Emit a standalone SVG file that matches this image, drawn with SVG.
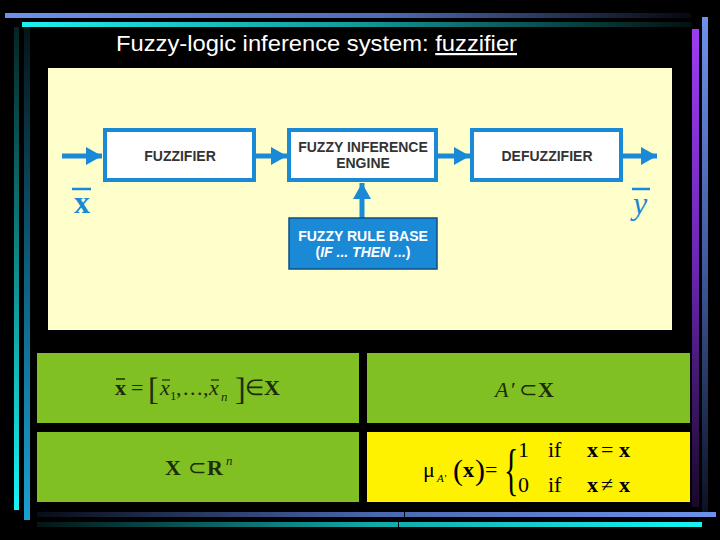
<svg xmlns="http://www.w3.org/2000/svg" width="720" height="540" viewBox="0 0 720 540">
<defs>
  <linearGradient id="gTopBlue" x1="0" y1="0" x2="1" y2="0">
    <stop offset="0" stop-color="#6d92ea"/>
    <stop offset="0.55" stop-color="#4e6cb8"/>
    <stop offset="1" stop-color="#06080e"/>
  </linearGradient>
  <linearGradient id="gTopCyan" x1="0" y1="0" x2="1" y2="0">
    <stop offset="0" stop-color="#1ef0f0"/>
    <stop offset="0.5" stop-color="#129a9a"/>
    <stop offset="1" stop-color="#041010"/>
  </linearGradient>
  <linearGradient id="gLeftCyan" x1="0" y1="0" x2="0" y2="1">
    <stop offset="0" stop-color="#062424"/>
    <stop offset="0.5" stop-color="#0f8a8c"/>
    <stop offset="1" stop-color="#19f4f4"/>
  </linearGradient>
  <linearGradient id="gLeftBlue" x1="0" y1="0" x2="0" y2="1">
    <stop offset="0" stop-color="#051418"/>
    <stop offset="0.5" stop-color="#0d5f7e"/>
    <stop offset="1" stop-color="#1aa0d2"/>
  </linearGradient>
  <linearGradient id="gRightPurple" x1="0" y1="0" x2="0" y2="1">
    <stop offset="0" stop-color="#9c3cf2"/>
    <stop offset="0.5" stop-color="#6a26b0"/>
    <stop offset="1" stop-color="#180828"/>
  </linearGradient>
  <linearGradient id="gRightBlue" x1="0" y1="0" x2="0" y2="1">
    <stop offset="0" stop-color="#6d92ea"/>
    <stop offset="0.5" stop-color="#3f5a9c"/>
    <stop offset="1" stop-color="#0c1020"/>
  </linearGradient>
  <linearGradient id="gBotBlue" x1="0" y1="0" x2="1" y2="0">
    <stop offset="0" stop-color="#080c16"/>
    <stop offset="0.5" stop-color="#4a68b0"/>
    <stop offset="1" stop-color="#6d92ea"/>
  </linearGradient>
  <linearGradient id="gBotCyan" x1="0" y1="0" x2="1" y2="0">
    <stop offset="0" stop-color="#041414"/>
    <stop offset="0.5" stop-color="#10a8a8"/>
    <stop offset="1" stop-color="#16f4f4"/>
  </linearGradient>
  <marker id="arrow" viewBox="0 0 16 18" refX="16" refY="9" markerWidth="16" markerHeight="18" markerUnits="userSpaceOnUse" orient="auto">
    <path d="M0,0 L16,9 L0,18 Z" fill="#1b8ad6"/>
  </marker>
</defs>
<style>
  .box { fill: #ffffff; stroke: #1b8ad6; stroke-width: 4; }
  .rule { fill: #1b8ad6; stroke: #0d4f86; stroke-width: 1.5; }
  .lbl { font-family: "Liberation Sans", Arial, sans-serif; font-weight: bold; font-size: 14px; fill: #333333; text-anchor: middle; }
  .wlbl { font-family: "Liberation Sans", Arial, sans-serif; font-weight: bold; font-size: 14px; fill: #ffffff; text-anchor: middle; }
  .conn { stroke: #1b8ad6; stroke-width: 5; fill: none; marker-end: url(#arrow); }
  .math { font-family: "Liberation Serif", "Times New Roman", serif; fill: #1e2c0c; }
  .mathk { font-family: "Liberation Serif", "Times New Roman", serif; fill: #000000; }
  .b { font-weight: bold; }
  .i { font-style: italic; }
</style>
<rect x="0" y="0" width="720" height="540" fill="#000000"/>

<!-- frame bars -->
<rect x="5" y="13" width="686" height="5" fill="url(#gTopBlue)"/>
<rect x="22" y="22" width="670" height="5" fill="url(#gTopCyan)"/>
<rect x="14" y="27" width="5" height="483" fill="url(#gLeftCyan)"/>
<rect x="24" y="27" width="6" height="493" fill="url(#gLeftBlue)"/>
<rect x="692" y="29" width="7" height="478" fill="url(#gRightPurple)"/>
<rect x="702" y="17" width="6" height="498" fill="url(#gRightBlue)"/>
<rect x="37" y="512" width="679" height="5" fill="url(#gBotBlue)"/>
<rect x="37" y="522" width="665" height="5" fill="url(#gBotCyan)"/>
<line x1="404.5" y1="511" x2="404.5" y2="518" stroke="#000" stroke-width="1"/>
<line x1="398.5" y1="521" x2="398.5" y2="528" stroke="#000" stroke-width="1"/>

<!-- title -->
<text x="116" y="51" font-family="Liberation Sans, Arial, sans-serif" font-size="22" fill="#ffffff" textLength="401" lengthAdjust="spacingAndGlyphs">Fuzzy-logic inference system: <tspan text-decoration="underline">fuzzifier</tspan></text>

<!-- diagram panel -->
<rect x="48" y="68" width="624" height="262" fill="#ffffcc"/>

<g id="connectors">
  <line class="conn" x1="62" y1="156" x2="102" y2="156"/>
  <line class="conn" x1="256" y1="156" x2="287" y2="156"/>
  <line class="conn" x1="438" y1="156" x2="470" y2="156"/>
  <line class="conn" x1="622" y1="156" x2="657" y2="156"/>
  <line class="conn" x1="362" y1="218" x2="362" y2="183"/>
</g>

<g id="fuzzifier">
  <rect class="box" x="105" y="130" width="149" height="50"/>
  <text class="lbl" x="180" y="161">FUZZIFIER</text>
</g>
<g id="engine">
  <rect class="box" x="289" y="130" width="147" height="50"/>
  <text class="lbl" x="363" y="152">FUZZY INFERENCE</text>
  <text class="lbl" x="363" y="168">ENGINE</text>
</g>
<g id="defuzzifier">
  <rect class="box" x="472" y="130" width="149" height="50"/>
  <text class="lbl" x="547" y="161">DEFUZZIFIER</text>
</g>
<g id="rulebase">
  <rect class="rule" x="289" y="218" width="148" height="51"/>
  <text class="wlbl" x="363" y="241">FUZZY RULE BASE</text>
  <text class="wlbl" x="363" y="257">(<tspan font-style="italic">IF ... THEN ...</tspan>)</text>
</g>
<g id="input-label">
  <line x1="72" y1="189" x2="91" y2="189" stroke="#1b8ad6" stroke-width="2.5"/>
  <text x="82" y="213" font-family="Liberation Serif, serif" font-weight="bold" font-size="32" fill="#1b8ad6" text-anchor="middle">x</text>
</g>
<g id="output-label">
  <line x1="632" y1="189" x2="650" y2="189" stroke="#1b8ad6" stroke-width="2.5"/>
  <text x="640" y="214" font-family="Liberation Serif, serif" font-style="italic" font-size="32" fill="#1b8ad6" text-anchor="middle">y</text>
</g>

<!-- formula cells -->
<g id="cell1">
  <rect x="37" y="353" width="322" height="70" fill="#80c022"/>
  <text class="math" y="395" style="font-size:22px"><tspan class="b" x="115">x</tspan><tspan x="131">=</tspan></text>
  <line x1="116" y1="379" x2="125" y2="379" stroke="#1e2c0c" stroke-width="1.5"/>
  <text class="math" x="148" y="400" style="font-size:32px">[</text>
  <text class="math i" x="160" y="395" style="font-size:22px">x</text>
  <line x1="162" y1="380" x2="170" y2="380" stroke="#1e2c0c" stroke-width="1.2"/>
  <text class="math" x="170" y="400" style="font-size:13px">1</text>
  <text class="math" y="395" style="font-size:22px"><tspan x="176">,</tspan><tspan x="183">.</tspan><tspan x="190">.</tspan><tspan x="197">.</tspan><tspan x="203">,</tspan></text>
  <text class="math i" x="209" y="395" style="font-size:22px">x</text>
  <line x1="211" y1="380" x2="219" y2="380" stroke="#1e2c0c" stroke-width="1.2"/>
  <text class="math i" x="221" y="401" style="font-size:13px">n</text>
  <text class="math" x="235" y="400" style="font-size:32px">]</text>
  <text class="math" x="245" y="395" style="font-size:22px">∈</text>
  <text class="math b" x="264" y="395" style="font-size:22px">X</text>
</g>
<g id="cell2">
  <rect x="37" y="432" width="322" height="70" fill="#80c022"/>
  <text class="math" y="475" style="font-size:22px"><tspan class="b" x="165">X</tspan><tspan x="188">⊂</tspan><tspan class="b" x="207">R</tspan></text>
  <text class="math i" x="226" y="465" style="font-size:13px">n</text>
</g>
<g id="cell3">
  <rect x="367" y="353" width="323" height="70" fill="#80c022"/>
  <text class="math" y="397" style="font-size:22px"><tspan class="i" x="495">A</tspan><tspan x="511">′</tspan><tspan x="519">⊂</tspan><tspan class="b" x="538">X</tspan></text>
</g>
<g id="cell4">
  <rect x="367" y="432" width="323" height="70" fill="#fff200"/>
  <text class="mathk" x="423" y="477" style="font-size:22px">μ</text>
  <text class="mathk i" x="437" y="482" style="font-size:11px">A′</text>
  <text class="mathk" x="453" y="480" style="font-size:30px">(</text>
  <text class="mathk b" x="463" y="477" style="font-size:22px">x</text>
  <text class="mathk" x="475" y="480" style="font-size:30px">)</text>
  <text class="mathk" x="485" y="477" style="font-size:22px">=</text>
  <text class="mathk" x="0" y="0" style="font-size:30px" transform="translate(504,489) scale(1,1.9)">{</text>
  <text class="mathk" y="457" style="font-size:22px"><tspan x="518">1</tspan><tspan x="548">if</tspan><tspan class="b" x="587">x</tspan><tspan x="601">=</tspan><tspan class="b" x="619">x</tspan></text>
  <text class="mathk" y="492" style="font-size:22px"><tspan x="518">0</tspan><tspan x="548">if</tspan><tspan class="b" x="587">x</tspan><tspan x="601">≠</tspan><tspan class="b" x="619">x</tspan></text>
</g>
</svg>
